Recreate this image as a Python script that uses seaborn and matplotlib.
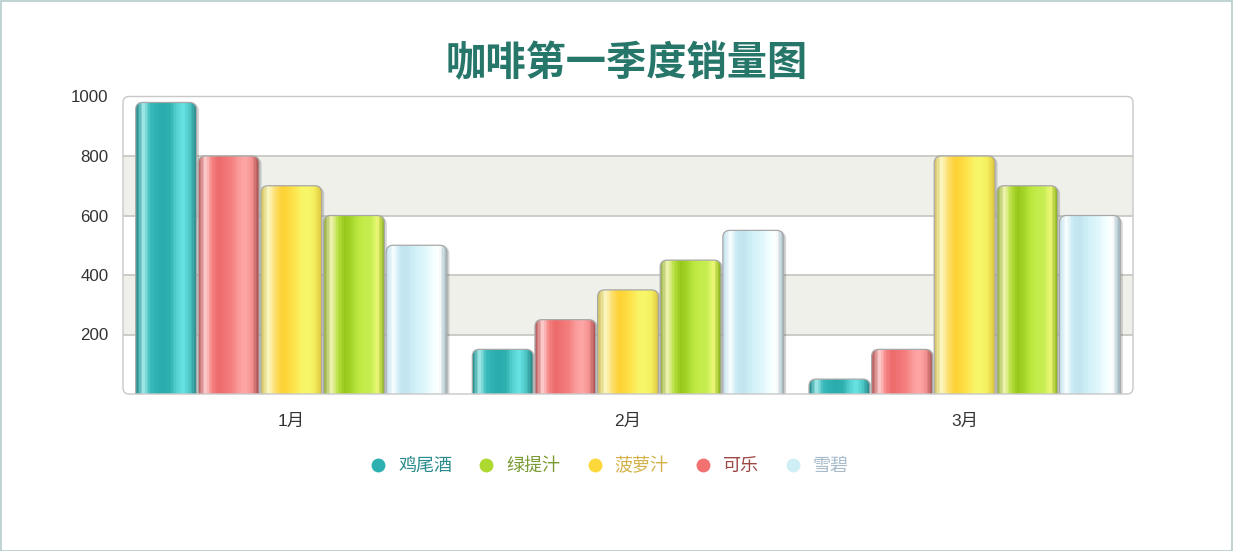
import numpy as np
import pandas as pd
import matplotlib
matplotlib.use("Agg")
import matplotlib.pyplot as plt
import seaborn as sns
from matplotlib.patches import FancyBboxPatch, Rectangle
from matplotlib.colors import LinearSegmentedColormap
from matplotlib.lines import Line2D

# ---------------- data ----------------
months = ["1月", "2月", "3月"]
bar_order = ["鸡尾酒", "可乐", "菠萝汁", "绿提汁", "雪碧"]
legend_order = ["鸡尾酒", "绿提汁", "菠萝汁", "可乐", "雪碧"]
cocktail = [980, 150, 50]
cola = [800, 250, 150]
pineapple = [700, 350, 800]
grape = [600, 450, 700]
sprite = [500, 550, 600]
yticks = [200, 400, 600, 800, 1000]
title = "咖啡第一季度销量图"

values = {"鸡尾酒": cocktail, "可乐": cola, "菠萝汁": pineapple,
          "绿提汁": grape, "雪碧": sprite}
rows = []
for name in bar_order:
    for m, v in zip(months, values[name]):
        rows.append({"month": m, "drink": name, "value": v})
df = pd.DataFrame(rows)

# ---------------- styles ----------------
base = {"鸡尾酒": "#2eb0b0", "可乐": "#f27272", "菠萝汁": "#fdd83a",
        "绿提汁": "#acd830", "雪碧": "#d0eef6"}
stripes = {
    "鸡尾酒": ["#2a9494", "#a8ecec", "#3bbaba", "#2eb0b0", "#2bacac", "#2eb0b0",
              "#55d0d0", "#6ae4e4", "#4fcaca", "#2a8c8c"],
    "可乐": ["#c06464", "#ffd0d0", "#f58282", "#ec6a6a", "#f27474", "#f58080",
             "#fa9a9a", "#ffa8a8", "#f89494", "#b05858"],
    "菠萝汁": ["#d8c868", "#fdf8c4", "#fde070", "#fdd236", "#fed83c", "#fde650",
              "#f8f466", "#f7f76a", "#f4ee5c", "#e0c840"],
    "绿提汁": ["#a0b850", "#f2f6b4", "#b8e040", "#98c81c", "#a4d428", "#bce840",
              "#c4ec4c", "#c6ee52", "#eef878", "#90b820"],
    "雪碧": ["#c8e4ee", "#f8ffff", "#c6e9f4", "#c2e4f0", "#cdeef6", "#d8f4fa",
             "#e2f8fc", "#f4ffff", "#ffffff", "#a8c0c8"],
}
legend_text_color = {"鸡尾酒": "#2a8c8c", "绿提汁": "#7a9a34", "菠萝汁": "#d4b24a",
                     "可乐": "#9c4646", "雪碧": "#a9bccb"}

sns.set_theme(style="white")
plt.rcParams["font.family"] = ["Liberation Sans", "Noto Sans CJK SC", "DejaVu Sans"]

W, H = 1233, 551
fig = plt.figure(figsize=(W / 100, H / 100), dpi=100)
fig.patch.set_facecolor("white")
fig.add_artist(Rectangle((0.5 / W, 0.5 / H), 1 - 1.5 / W, 1 - 1.5 / H,
                         transform=fig.transFigure, fill=False,
                         edgecolor="#b4cccc", lw=1.2))

ax = fig.add_axes([123 / W, (H - 394) / H, (1133 - 123) / W, (394 - 96.5) / H])
sns.barplot(data=df, x="month", y="value", hue="drink", hue_order=bar_order,
            order=months, palette=base, width=0.93, ax=ax, legend=False,
            saturation=1, edgecolor="none", zorder=3)

ax.set_ylim(0, 1000)
ax.set_xlim(-0.5, 2.5)
for lo, hi in [(200, 400), (600, 800)]:
    ax.axhspan(lo, hi, color="#f0f0eb", zorder=0, lw=0)
for y in [200, 400, 600, 800]:
    ax.axhline(y, color="#c4c4c0", lw=1.2, zorder=1)
for s in ax.spines.values():
    s.set_visible(False)
ax.add_patch(FancyBboxPatch((0, 0), 1, 1, transform=ax.transAxes,
                            boxstyle="round,pad=0,rounding_size=0.006",
                            mutation_aspect=1010 / 298,
                            fill=False, edgecolor="#c8c8c8", lw=1.0,
                            zorder=5, clip_on=False))

# gradient + rounded tops for each bar
fig.canvas.draw()
px_x = ax.transData.transform([(1, 0)])[0][0] - ax.transData.transform([(0, 0)])[0][0]
px_y = ax.transData.transform([(0, 1)])[0][1] - ax.transData.transform([(0, 0)])[0][1]
r_px = 7.0
rx = r_px / px_x
aspect = (1 / px_y) / (1 / px_x)

n = len(months)
for i, name in enumerate(bar_order):
    cmap = LinearSegmentedColormap.from_list(name, stripes[name], N=256)
    for patch in ax.patches[i * n:(i + 1) * n]:
        x0, y0 = patch.get_x(), patch.get_y()
        w, h = patch.get_width(), patch.get_height()
        if h <= 0:
            continue
        patch.set_visible(False)
        gap = 0.9 / px_x
        x0 += gap
        w -= 2 * gap
        sh = FancyBboxPatch((x0 + 2.5 / px_x, y0 - 40), w, h + 40 - 1.5 / px_y,
                            boxstyle=f"round,pad=0,rounding_size={rx}",
                            mutation_aspect=aspect, facecolor="#000000",
                            alpha=0.16, edgecolor="none", zorder=2)
        ax.add_patch(sh)
        clip = FancyBboxPatch((x0, y0 - 40), w, h + 40,
                              boxstyle=f"round,pad=0,rounding_size={rx}",
                              mutation_aspect=aspect, facecolor="none",
                              edgecolor="#a8a8a8", lw=0.9, zorder=4)
        ax.add_patch(clip)
        grad = np.linspace(0, 1, 40).reshape(1, -1)
        im = ax.imshow(grad, cmap=cmap, aspect="auto",
                       extent=(x0, x0 + w, y0, y0 + h), zorder=3,
                       interpolation="nearest")
        im.set_clip_path(clip)

ax.set_ylim(0, 1000)
ax.set_xlim(-0.5, 2.5)
ax.set_yticks(yticks)
ax.set_yticklabels([str(t) for t in yticks])
ax.set_xlabel("")
ax.set_ylabel("")
ax.tick_params(axis="y", length=0, pad=10.5, labelsize=12.2, labelcolor="#333333")
ax.tick_params(axis="x", length=0, pad=14, labelsize=12.5, labelcolor="#333333")

fig.text(627 / W, 1 - 64 / H, title, ha="center", va="center",
         fontsize=29, fontweight="bold", color="#26766a",
         family=["Noto Sans CJK SC", "DejaVu Sans"])

handles = [Line2D([], [], marker="o", ls="none", markersize=10,
                  markerfacecolor=base[nm], markeredgecolor="none")
           for nm in legend_order]
leg = fig.legend(handles, legend_order, loc="center",
                 bbox_to_anchor=(609 / W, 1 - 466 / H), ncol=5, frameon=False,
                 handlelength=1.0, handletextpad=0.6, columnspacing=1.4,
                 prop={"family": ["Noto Sans CJK SC", "DejaVu Sans"], "size": 13})
for t, nm in zip(leg.get_texts(), legend_order):
    t.set_color(legend_text_color[nm])

fig.savefig("out.png", dpi=100)
